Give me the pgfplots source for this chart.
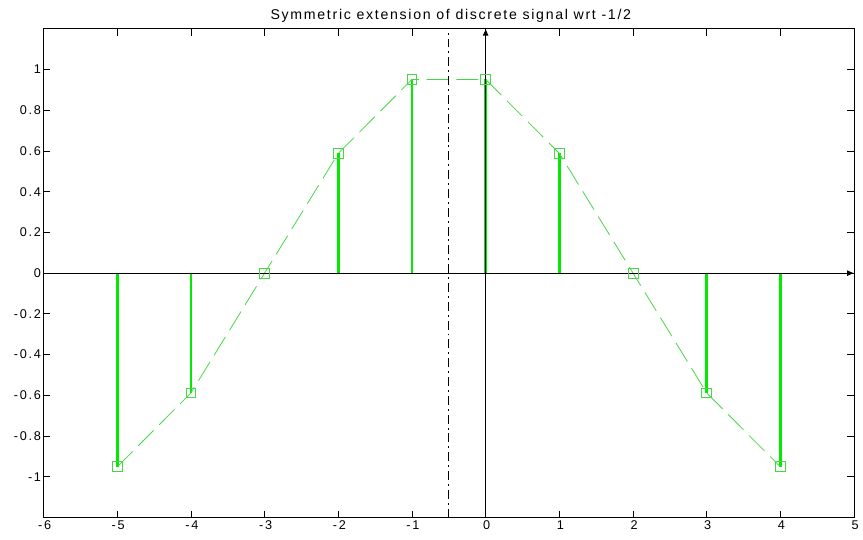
\documentclass[border=0pt]{standalone}
\usepackage{fontspec}
\setmainfont{Liberation Sans}
\newfontfamily\titlefont[LetterSpace=12]{Liberation Sans}
\newfontfamily\tickfont[LetterSpace=14]{Liberation Sans}
\usepackage{pgfplots}
\pgfplotsset{compat=1.18}
\usetikzlibrary{arrows.meta}

\definecolor{stemgreen}{RGB}{0,235,0}
\definecolor{linegreen}{RGB}{70,215,70}

\begin{document}
\begin{tikzpicture}
\begin{axis}[
  at={(0,0)}, anchor=south west,
  scale only axis,
  width=819pt, height=494pt,
  xmin=-6, xmax=5,
  ymin=-1.2, ymax=1.2,
  xtick={-6,-5,...,5},
  ytick={-1,-0.8,-0.6,-0.4,-0.2,0,0.2,0.4,0.6,0.8,1},
  tick align=inside,
  major tick length=7pt,
  axis line style={line width=0.8pt},
  tick style={line width=0.8pt, black},
  /pgf/number format/assume math mode=true,
  ticklabel style={font=\tickfont\fontsize{12.8}{15}\selectfont},
  xticklabel style={xshift=1pt},
  yticklabel style={xshift=1pt},
  title={Symmetric extension of discrete signal wrt -1/2},
  title style={font=\titlefont\fontsize{14.3}{16}\selectfont, yshift=-3pt, xshift=2pt},
  clip=false,
]
% stems of the discrete signal
\addplot[ycomb, stemgreen, line width=2.6pt, forget plot] coordinates {
  (-5,-0.951) (-4,-0.588) (-3,0) (-2,0.588) (-1,0.951)
  (0,0.951) (1,0.588) (2,0) (3,-0.588) (4,-0.951)
};
% envelope joining the samples
\addplot[linegreen, line width=0.8pt, dash pattern=on 22pt off 8pt,
  mark=square, mark size=5pt, mark options={solid, line width=0.9pt}] coordinates {
  (-5,-0.951) (-4,-0.588) (-3,0) (-2,0.588) (-1,0.951)
  (0,0.951) (1,0.588) (2,0) (3,-0.588) (4,-0.951)
};
% coordinate axes through the origin
\addplot[black, line width=0.8pt, -{Latex[length=7pt,width=6pt]}] coordinates {(-6,0) (5,0)};
\addplot[black, line width=0.8pt, -{Latex[length=7pt,width=6pt]}] coordinates {(0,-1.2) (0,1.2)};
% symmetry line at n = -1/2
\addplot[black, line width=0.8pt, dash pattern=on 9pt off 4pt on 2pt off 4pt] coordinates {(-0.5,-1.2) (-0.5,1.2)};
\end{axis}
\pgfresetboundingbox
\path[use as bounding box] (-44pt,-22pt) rectangle (828pt,523pt);
\end{tikzpicture}
\end{document}
